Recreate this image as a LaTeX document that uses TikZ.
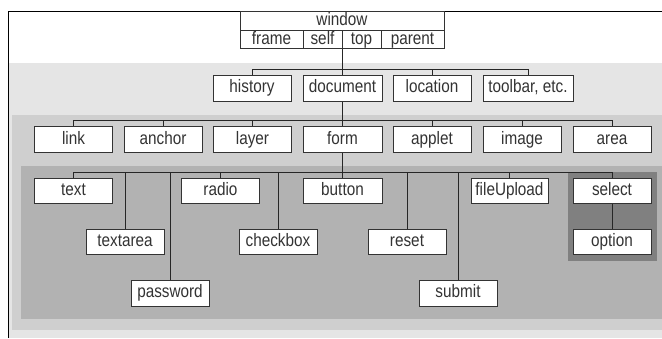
\documentclass[tikz,border=0pt]{standalone}
\usepackage{fontspec}
\setmainfont{Liberation Sans}[FakeStretch=0.85]
\usepackage{tikz}

\definecolor{lvA}{gray}{0.90}
\definecolor{lvB}{gray}{0.81}
\definecolor{lvC}{gray}{0.70}
\definecolor{lvD}{gray}{0.50}

\begin{document}
\begin{tikzpicture}[x=1pt, y=-1pt,
    obj/.style={draw=black!80, fill=white, line width=1pt, inner sep=0pt,
      minimum width=78pt, minimum height=26pt, text=black!80,
      text height=12.5pt, text depth=3.4pt,
      font=\fontsize{18}{20}\selectfont},
    cell/.style={obj, minimum height=18.5pt},
    wire/.style={black!85, line width=0.9pt}
  ]
  % Rahmen und Ebenen
  \useasboundingbox (0,0) rectangle (662,338);
  \fill[white] (0,0) rectangle (662,338);
  \fill[lvA] (8,63) rectangle (662,338);
  \fill[lvB] (12,115) rectangle (662,330);
  \fill[lvC] (21,166) rectangle (662,319);
  \fill[lvD] (568,172) rectangle (657,261);
  \draw[black, line width=1pt] (8,338) -- (8,11) -- (662,11);

  % window
  \node[cell, minimum width=204pt] (window) at (342,21) {window};
  \node[cell, minimum width=63pt] (frame) at (271.5,39.5) {frame};
  \node[cell, minimum width=39pt] (self) at (322.5,39.5) {self};
  \node[cell, minimum width=39pt] (top) at (361.5,39.5) {top};
  \node[cell, minimum width=63pt] (parent) at (412.5,39.5) {parent};

  % Ebene 1
  \node[obj] (history) at (252,88) {history};
  \node[obj, minimum width=79pt] (document) at (342.5,88) {document};
  \node[obj] (location) at (432,88) {location};
  \node[obj, minimum width=90pt] (toolbar) at (528,88) {toolbar, etc.};

  % Ebene 2
  \node[obj] (link) at (73.5,139.5) {link};
  \node[obj] (anchor) at (163,139.5) {anchor};
  \node[obj] (layer) at (252.5,139.5) {layer};
  \node[obj, minimum width=79pt] (form) at (342.5,139.5) {form};
  \node[obj] (applet) at (432,139.5) {applet};
  \node[obj] (image) at (522,139.5) {image};
  \node[obj] (area) at (612,139.5) {area};

  % Ebene 3 (form)
  \node[obj, minimum height=25pt] (txt) at (73.5,190.5) {text};
  \node[obj, minimum height=25pt] (radio) at (220.5,190.5) {radio};
  \node[obj, minimum height=25pt, minimum width=79pt] (button) at (342.5,190.5) {button};
  \node[obj, minimum height=25pt, minimum width=77pt] (fileUpload) at (509.5,190.5) {fileUpload};
  \node[obj, minimum height=25pt] (select) at (612,190.5) {select};
  \node[obj, minimum height=25pt] (textarea) at (125,241.5) {textarea};
  \node[obj, minimum height=25pt] (checkbox) at (278,241.5) {checkbox};
  \node[obj, minimum height=25pt] (reset) at (407,241.5) {reset};
  \node[obj, minimum height=25pt] (option) at (612,241.5) {option};
  \node[obj, minimum height=26pt] (password) at (170,293) {password};
  \node[obj, minimum height=26pt] (submit) at (458,293) {submit};

  % Verbindungen
  \coordinate (busA) at (342,69);
  \coordinate (busB) at (342,120);
  \coordinate (busC) at (342,172);
  \draw[wire] (self.south east) -- (document.north);
  \foreach \n in {history,location,toolbar}
    \draw[wire] (busA) -| (\n.north);
  \draw[wire] (document.south) -- (form.north);
  \foreach \n in {link,anchor,layer,applet,image,area}
    \draw[wire] (busB) -| (\n.north);
  \draw[wire] (form.south) -- (button.north);
  \foreach \n in {txt,textarea,password,radio,checkbox,reset,submit,fileUpload,select}
    \draw[wire] (busC) -| (\n.north);
  \draw[wire] (select.south) -- (option.north);
\end{tikzpicture}
\end{document}
